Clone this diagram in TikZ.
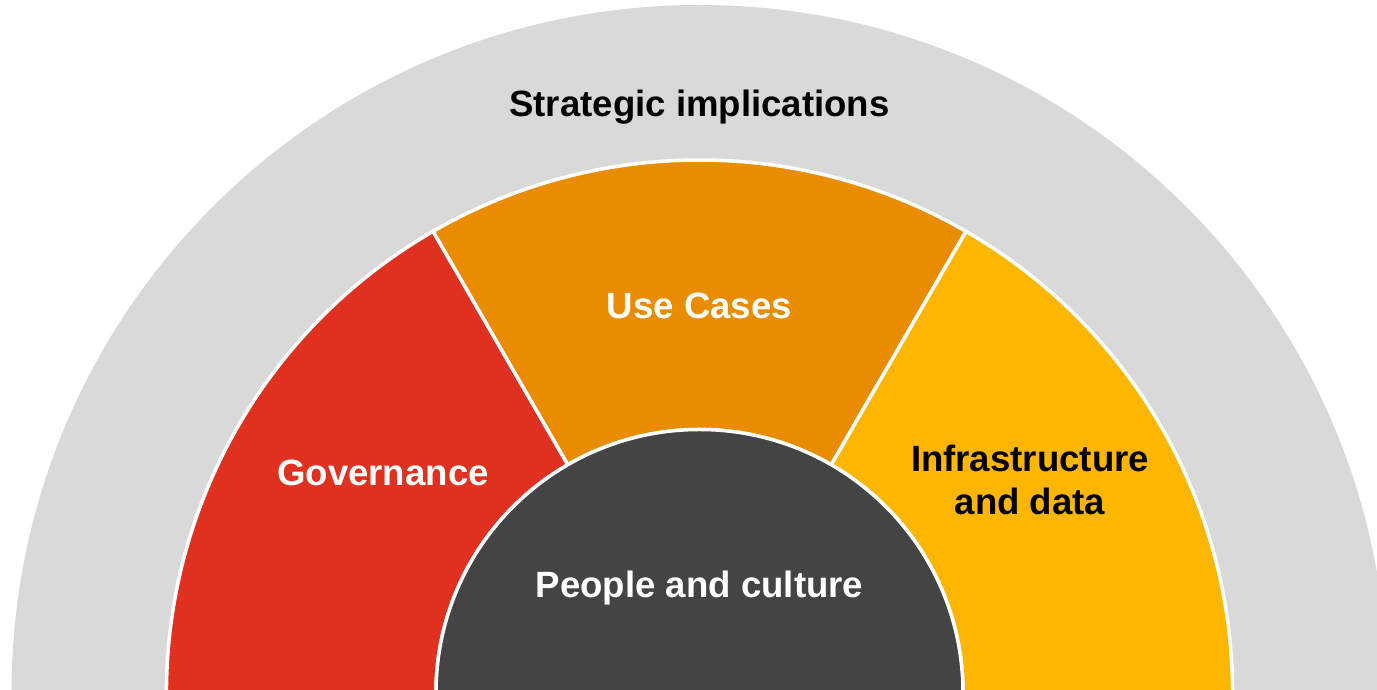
\documentclass[tikz,border=0pt]{standalone}
\usepackage{fontspec}
\setmainfont{Liberation Sans}
\definecolor{ringgrey}{HTML}{D9D9D9}
\definecolor{govred}{HTML}{E03120}
\definecolor{useorange}{HTML}{EA8C00}
\definecolor{infyellow}{HTML}{FFB600}
\definecolor{coredark}{HTML}{444444}
\tikzset{
  sector/.style={draw=white, line width=3.5},
  label/.style={font=\bfseries\fontsize{36.6}{43}\selectfont, inner sep=0pt, anchor=base},
}
\begin{document}
\begin{tikzpicture}[x=1pt,y=1pt]
\useasboundingbox (0,0) rectangle (1377,690);
\clip (0,0) rectangle (1377,690);
\fill[white] (0,0) rectangle (1377,690);
\begin{scope}[shift={(699.5,-3)}]
  % outer grey disc
  \fill[ringgrey] (0,0) circle[radius=688];
  % middle ring sectors
  \path[sector, fill=useorange] (60:263.5) -- (60:533) arc[start angle=60, end angle=120, radius=533]
     -- (120:263.5) arc[start angle=120, end angle=60, radius=263.5] -- cycle;
  \path[sector, fill=govred] (120:263.5) -- (120:533) arc[start angle=120, end angle=200, radius=533]
     -- (200:263.5) arc[start angle=200, end angle=120, radius=263.5] -- cycle;
  \path[sector, fill=infyellow] (-20:263.5) -- (-20:533) arc[start angle=-20, end angle=60, radius=533]
     -- (60:263.5) arc[start angle=60, end angle=-20, radius=263.5] -- cycle;
  % inner core
  \path[sector, fill=coredark] (0,0) circle[radius=263.5];
\end{scope}
\node[label, text=black] (strategic) at (699.5,573) {Strategic implications};
\node[label, text=white] (usecases) at (699.5,371) {Use Cases};
\node[label, text=white] (governance) at (383,204) {Governance};
\node[label, text=black] (infra1) at (1030,218) {Infrastructure};
\node[label, text=black] (infra2) at (1030,175) {and data};
\node[label, text=white] (people) at (699.5,92) {People and culture};
\end{tikzpicture}
\end{document}
